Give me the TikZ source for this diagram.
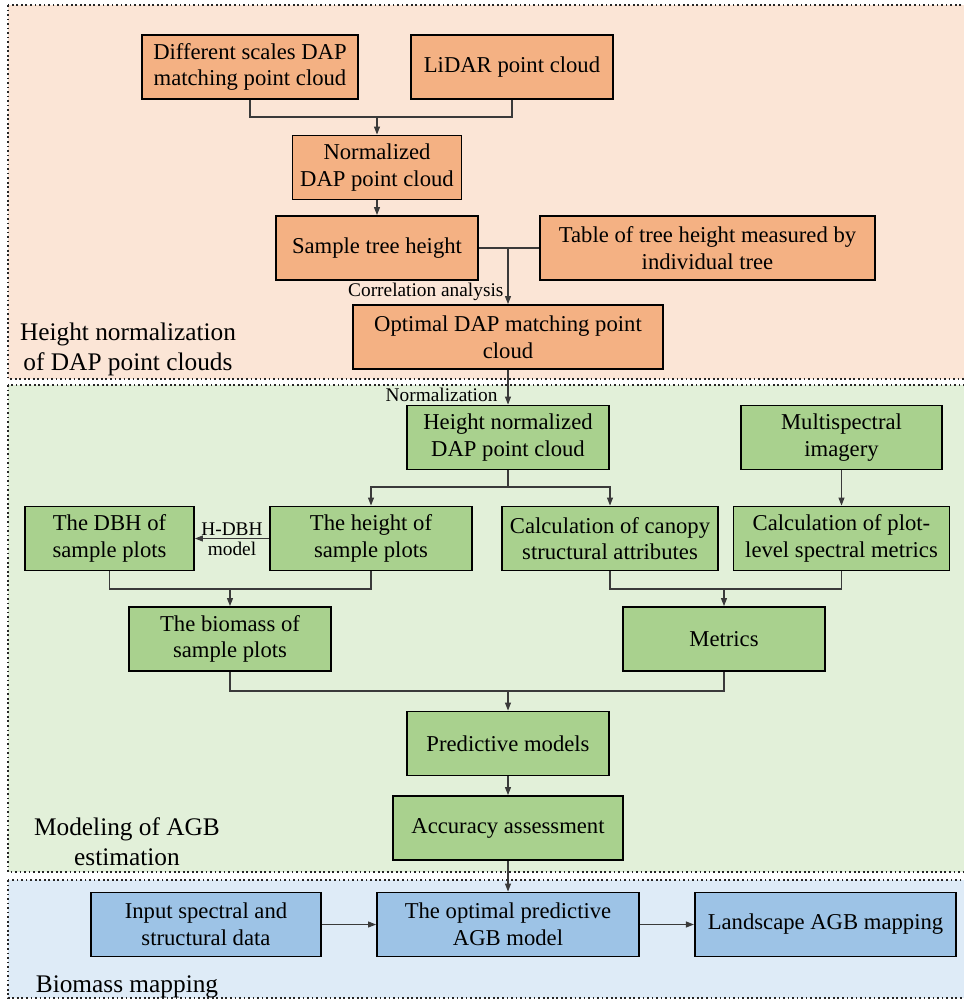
\documentclass[tikz,border=0pt]{standalone}
\usepackage{fontspec}
\setmainfont{Liberation Serif}
\newfontfamily\flowfont{Liberation Serif}
\usetikzlibrary{arrows.meta,positioning}

\definecolor{bgpeach}{HTML}{FBE5D6}
\definecolor{bggreen}{HTML}{E2F0D9}
\definecolor{bgblue}{HTML}{DEEBF7}
\definecolor{boxorange}{HTML}{F4B183}
\definecolor{boxgreen}{HTML}{A9D18E}
\definecolor{boxblue}{HTML}{9DC3E6}
\definecolor{linegray}{HTML}{3A3A3A}

\tikzset{
  box/.style={draw=black, line width=1.4pt, align=center, inner sep=2pt,
    minimum height=48pt, font=\flowfont\fontsize{17}{20}\selectfont},
  obox/.style={box, fill=boxorange},
  gbox/.style={box, fill=boxgreen},
  bbox/.style={box, fill=boxblue},
  link/.style={draw=linegray, line width=0.8pt},
  arr/.style={link, -{Triangle[length=6pt,width=4.5pt]}},
  note/.style={font=\flowfont\fontsize{14.5}{16}\selectfont, inner sep=1pt},
  paneltitle/.style={font=\flowfont\fontsize{19}{22.5}\selectfont, align=center},
  panel/.style={draw=black!85, line width=1.3pt, dash pattern=on 1.3pt off 2.1pt}
}

\begin{document}
\begin{tikzpicture}[x=0.75pt, y=-0.75pt]
  \useasboundingbox (0,0) rectangle (964,1001);

  % panels
  \draw[panel, fill=bgpeach] (8,5) rectangle (990,379);
  \draw[panel, fill=bggreen] (8,385) rectangle (990,872);
  \draw[panel, fill=bgblue] (8,880) rectangle (990,998);

  \node[paneltitle] (t1) at (128,349) {Height normalization\\of DAP point clouds};
  \node[paneltitle] (t2) at (127,842) {Modeling of AGB\\estimation};
  \node[paneltitle, anchor=base] (t3) at (127,992) {Biomass mapping};

  % height normalization
  \node[obox, minimum width=162pt] (diff) at (250,67) {Different scales DAP\\matching point cloud};
  \node[obox, minimum width=151.5pt] (lidar) at (512,67) {LiDAR point cloud};
  \node[obox, minimum width=126.75pt] (norm) at (377,167.5) {Normalized\\DAP point cloud};
  \node[obox, minimum width=151.5pt] (sth) at (377,248) {Sample tree height};
  \node[obox, minimum width=251.25pt] (table) at (707.5,248) {Table of tree height measured by\\individual tree};
  \node[obox, minimum width=232.5pt] (opt) at (508,337) {Optimal DAP matching point\\cloud};

  \coordinate (j1) at (377,117);
  \coordinate (j2) at (508,248);
  \draw[link] (diff.south) |- (j1) -| (lidar.south);
  \draw[arr] (j1) -- (norm.north);
  \draw[arr] (norm) -- (sth);
  \draw[link] (sth) -- (table);
  \draw[arr] (j2) -- (opt.north);
  \node[note, anchor=east] (corr) at (505,292) {Correlation analysis};

  % modeling
  \node[gbox, minimum width=151.5pt] (hn) at (508,437.5) {Height normalized\\DAP point cloud};
  \node[gbox, minimum width=151pt] (multi) at (841.5,437.5) {Multispectral\\imagery};
  \node[gbox, minimum width=126.75pt] (dbh) at (109.5,538.5) {The DBH of\\sample plots};
  \node[gbox, minimum width=151.5pt] (hsp) at (371,538.5) {The height of\\sample plots};
  \node[gbox, minimum width=162pt] (canopy) at (610,538.5) {Calculation of canopy\\structural attributes};
  \node[gbox, minimum width=162pt] (spectral) at (841.5,538.5) {Calculation of plot-\\level spectral metrics};
  \node[gbox, minimum width=151.5pt] (bio) at (230,639) {The biomass of\\sample plots};
  \node[gbox, minimum width=151.5pt] (metrics) at (724,639) {Metrics};
  \node[gbox, minimum width=151pt] (pred) at (508,743.5) {Predictive models};
  \node[gbox, minimum width=172.5pt] (acc) at (508,828) {Accuracy assessment};

  \draw[arr] (opt) -- (hn);
  \node[note, anchor=east] (normlab) at (499,395) {Normalization};

  \coordinate (j3) at (508,487);
  \coordinate (j4) at (230,589);
  \coordinate (j5) at (724,589);
  \coordinate (j6) at (508,691);
  \draw[link] (hn.south) -- (j3);
  \draw[arr] (j3) -| (hsp.north);
  \draw[arr] (j3) -| (canopy.north);
  \draw[arr] (multi) -- (spectral);
  \draw[arr] (hsp) -- node[note, above=1pt] (hdbh) {H-DBH} node[note, below=1.5pt] (model) {model} (dbh);
  \draw[link] (dbh.south) |- (j4) -| (hsp.south);
  \draw[arr] (j4) -- (bio.north);
  \draw[link] (canopy.south) |- (j5) -| (spectral.south);
  \draw[arr] (j5) -- (metrics.north);
  \draw[link] (bio.south) |- (j6) -| (metrics.south);
  \draw[arr] (j6) -- (pred.north);
  \draw[arr] (pred) -- (acc);

  % mapping
  \node[bbox, minimum width=172.5pt] (input) at (206,924.5) {Input spectral and\\structural data};
  \node[bbox, minimum width=196.5pt] (agb) at (508,924.5) {The optimal predictive\\AGB model};
  \node[bbox, minimum width=196pt] (land) at (825.5,924.5) {Landscape AGB mapping};

  \draw[arr] (acc) -- (agb);
  \draw[arr] (input) -- (agb);
  \draw[arr] (agb) -- (land);
\end{tikzpicture}
\end{document}
